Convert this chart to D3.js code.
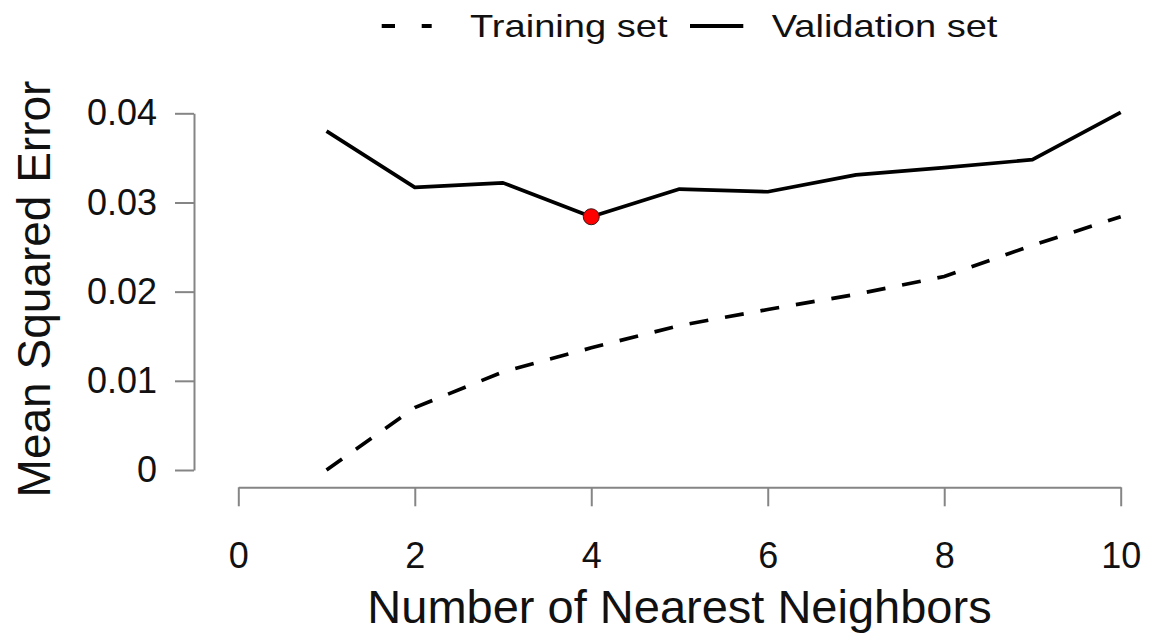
<!DOCTYPE html>
<html>
<head>
<meta charset="utf-8">
<script src="https://cdn.jsdelivr.net/npm/d3@7"></script>
<style>
  body { margin: 0; background: #fff; }
  svg { display: block; }
</style>
</head>
<body>
<svg id="chart" width="1149" height="635"></svg>
<script>
var neighbors = [1, 2, 3, 4, 5, 6, 7, 8, 9, 10];
var trainingMse = [0.0000, 0.0070, 0.0110, 0.0137, 0.0162, 0.0180, 0.0197, 0.0217, 0.0252, 0.0284];
var validationMse = [0.0380, 0.0317, 0.0322, 0.0284, 0.0315, 0.0312, 0.0331, 0.0339, 0.0348, 0.0401];
var xTicks = [0, 2, 4, 6, 8, 10];
var yTicks = [0, 0.01, 0.02, 0.03, 0.04];
var bestK = 4;

var svg = d3.select('#chart');
var font = '"Liberation Sans", Arial, sans-serif';
var textColor = '#111111';
var axisColor = '#858585';

var x = d3.scaleLinear().domain([0, 10]).range([238.3, 1120.7]);
var y = d3.scaleLinear().domain([0, 0.04]).range([470, 113.3]);

svg.append('rect')
  .attr('width', 1149)
  .attr('height', 635)
  .style('fill', '#ffffff');

// y axis
var yAxis = svg.append('g')
  .attr('class', 'y-axis')
  .attr('transform', 'translate(194,0)')
  .call(d3.axisLeft(y)
    .tickValues(yTicks)
    .tickSize(19)
    .tickSizeOuter(0)
    .tickPadding(18)
    .tickFormat(function(d) {
      return d === 0 ? '0' : d3.format('.2f')(d);
    }));

// x axis
var xAxis = svg.append('g')
  .attr('class', 'x-axis')
  .attr('transform', 'translate(0,487.3)')
  .call(d3.axisBottom(x)
    .tickValues(xTicks)
    .tickSize(19)
    .tickSizeOuter(0)
    .tickPadding(36)
    .tickFormat(d3.format('d')));

[yAxis, xAxis].forEach(function(ax) {
  ax.select('.domain').attr('stroke', axisColor).attr('stroke-width', 2);
  ax.selectAll('.tick line').attr('stroke', axisColor).attr('stroke-width', 2);
  ax.selectAll('.tick text')
    .style('font-family', font)
    .style('font-size', '36px')
    .style('fill', textColor);
});

// axis titles
svg.append('text')
  .attr('x', x(5))
  .attr('y', 623)
  .style('text-anchor', 'middle')
  .style('font-family', font)
  .style('font-size', '47px')
  .style('fill', textColor)
  .text('Number of Nearest Neighbors');

svg.append('text')
  .attr('transform', 'translate(50,' + 289 + ') rotate(-90)')
  .style('text-anchor', 'middle')
  .style('font-family', font)
  .style('font-size', '46px')
  .style('fill', textColor)
  .text('Mean Squared Error');

// lines
var training = neighbors.map(function(k, i) { return { k: k, mse: trainingMse[i] }; });
var validation = neighbors.map(function(k, i) { return { k: k, mse: validationMse[i] }; });

var line = d3.line()
  .x(function(d) { return x(d.k); })
  .y(function(d) { return y(d.mse); });

svg.append('path')
  .datum(training)
  .attr('class', 'training-line')
  .attr('d', line)
  .attr('fill', 'none')
  .attr('stroke', '#000')
  .attr('stroke-width', 3.7)
  .attr('stroke-dasharray', '19,17');

svg.append('path')
  .datum(validation)
  .attr('class', 'validation-line')
  .attr('d', line)
  .attr('fill', 'none')
  .attr('stroke', '#000')
  .attr('stroke-width', 3.7)
  .attr('stroke-linejoin', 'round');

svg.selectAll('.best-point')
  .data(validation.filter(function(d) { return d.k === bestK; }))
  .enter().append('circle')
  .attr('class', 'best-point')
  .attr('cx', function(d) { return x(d.k); })
  .attr('cy', function(d) { return y(d.mse); })
  .attr('r', 8)
  .style('fill', '#ff0000')
  .style('stroke', '#3a1a1a')
  .style('stroke-width', 1);

// legend
var legend = svg.append('g').attr('class', 'legend');

legend.append('line')
  .attr('x1', 381.7).attr('x2', 395)
  .attr('y1', 26).attr('y2', 26)
  .attr('stroke', '#000').attr('stroke-width', 4);
legend.append('line')
  .attr('x1', 421.7).attr('x2', 431.7)
  .attr('y1', 26).attr('y2', 26)
  .attr('stroke', '#000').attr('stroke-width', 4);
legend.append('line')
  .attr('x1', 690).attr('x2', 743.3)
  .attr('y1', 26).attr('y2', 26)
  .attr('stroke', '#000').attr('stroke-width', 4);

var legendLabels = [
  { text: 'Training set', x: 470 },
  { text: 'Validation set', x: 771.7 }
];

legend.selectAll('.legend-text')
  .data(legendLabels)
  .enter().append('text')
  .attr('class', 'legend-text')
  .attr('transform', function(d) {
    return 'translate(' + d.x + ',36.7) scale(1.19,1)';
  })
  .style('font-family', font)
  .style('font-size', '32px')
  .style('fill', textColor)
  .text(function(d) { return d.text; });
</script>
</body>
</html>
